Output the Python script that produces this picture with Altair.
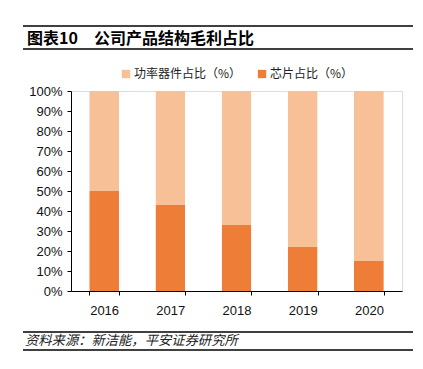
import altair as alt
import pandas as pd

years = ["2016", "2017", "2018", "2019", "2020"]
chip_share = [0.50, 0.43, 0.33, 0.22, 0.15]
power_share = [0.50, 0.57, 0.67, 0.78, 0.85]
series = ["功率器件占比（%）", "芯片占比（%）"]
colors = ["#F8C096", "#ED7D37"]
y_ticks = [0, 0.1, 0.2, 0.3, 0.4, 0.5, 0.6, 0.7, 0.8, 0.9, 1.0]

rows = []
for i, y in enumerate(years):
    rows.append({"year": y, "series": series[1], "value": chip_share[i], "ord": 0})
    rows.append({"year": y, "series": series[0], "value": power_share[i], "ord": 1})
df = pd.DataFrame(rows)

FONT_NUM = "Liberation Sans"
FONT_CJK = "Noto Sans CJK SC"

bars = alt.Chart(df).mark_bar(cornerRadius=1).encode(
    x=alt.X("year:N", sort=years, title=None,
            scale=alt.Scale(paddingInner=0.55, paddingOuter=0.275),
            axis=alt.Axis(labelAngle=0, labelFont=FONT_NUM, labelFontSize=13,
                          labelColor="#111", domainColor="#000", domainWidth=1,
                          tickColor="#000", tickSize=4, tickBand="extent",
                          labelPadding=9)),
    y=alt.Y("value:Q", stack="zero", title=None,
            scale=alt.Scale(domain=[0, 1], nice=False),
            axis=alt.Axis(values=y_ticks, format=".0%", grid=False,
                          labelFont=FONT_NUM, labelFontSize=13, labelColor="#111",
                          domainColor="#000", domainWidth=1, tickColor="#000",
                          tickSize=4, labelPadding=5)),
    color=alt.Color("series:N",
                    scale=alt.Scale(domain=series, range=colors),
                    legend=alt.Legend(title=None, orient="none", direction="horizontal",
                                      legendX=49, legendY=-23, symbolType="square",
                                      symbolSize=70, symbolStrokeWidth=0,
                                      labelFont=FONT_CJK, labelFontSize=12,
                                      labelColor="#222", columnPadding=14,
                                      symbolOffset=0, labelOffset=2, padding=0)),
    order=alt.Order("ord:Q", sort="ascending"),
)

lines_df = pd.DataFrame({"yy": [-65, -42, 241, 259]})
deco_lines = alt.Chart(lines_df).mark_rule(color="#000", strokeWidth=1.5).encode(
    x=alt.value(-48), x2=alt.value(342), y=alt.Y("yy:Q", scale=None)
)

title_txt = alt.Chart(pd.DataFrame({"t": ["图表10　公司产品结构毛利占比"]})).mark_text(
    align="left", baseline="middle", font=FONT_CJK, fontSize=16, fontWeight="bold",
    color="#000"
).encode(text="t:N", x=alt.value(-44), y=alt.value(-52))

source_txt = alt.Chart(pd.DataFrame({"t": ["资料来源：新洁能，平安证券研究所"]})).mark_text(
    align="left", baseline="middle", font=FONT_CJK, fontSize=13.3, fontStyle="italic",
    color="#222"
).encode(text="t:N", x=alt.value(-46), y=alt.value(250))

chart = alt.layer(bars, deco_lines, title_txt, source_txt).properties(
    width=331, height=200,
    padding={"left": 63, "top": 83, "right": 13, "bottom": 70},
    autosize=alt.AutoSizeParams(type="none"),
).configure_view(stroke=None).configure(background="white")

chart.save("out.html", embed_options={"renderer": "svg", "actions": False})
